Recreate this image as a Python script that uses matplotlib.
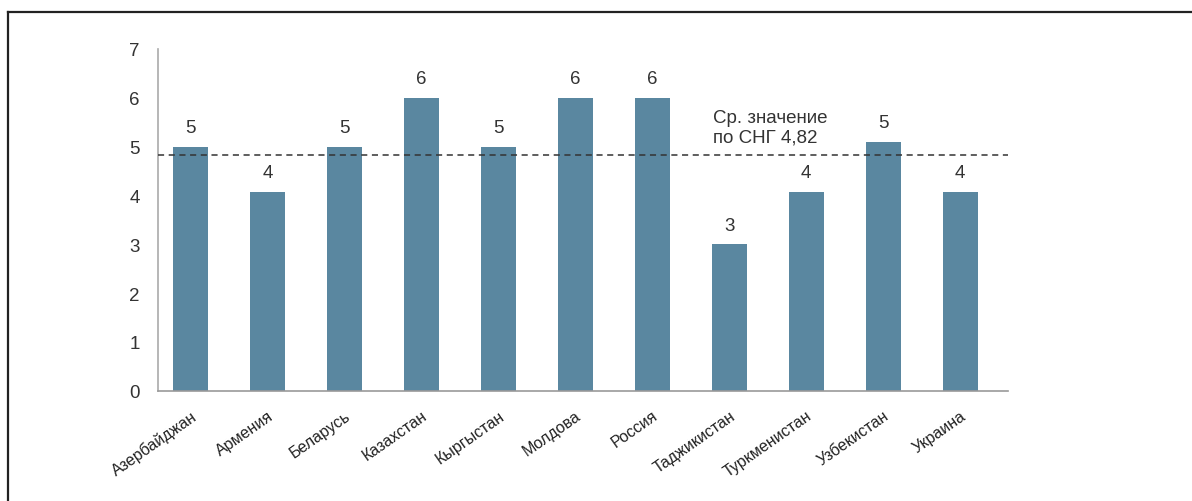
import matplotlib
matplotlib.use("Agg")
import matplotlib.pyplot as plt
from matplotlib.lines import Line2D

countries = ["Азербайджан", "Армения", "Беларусь", "Казахстан", "Кыргыстан",
             "Молдова", "Россия", "Таджикистан", "Туркменистан", "Узбекистан", "Украина"]
values = [5.0, 4.08, 5.0, 6.0, 5.0, 6.0, 6.0, 3.0, 4.07, 5.1, 4.08]
value_labels = ["5", "4", "5", "6", "5", "6", "6", "3", "4", "5", "4"]
average = 4.82
average_text = "Ср. значение\nпо СНГ 4,82"
yticks = [0, 1, 2, 3, 4, 5, 6, 7]

plt.rcParams['font.family'] = ['Liberation Sans', 'DejaVu Sans']

fig = plt.figure(figsize=(11.92, 5.02), dpi=100)
ax = fig.add_axes([158/1192, 1 - 391.7/502, (1008-158)/1192, (391.7-50)/502])

x = list(range(len(countries)))
ax.bar(x, values, width=0.45, color="#5a87a0", zorder=2)
for xi, v, lab in zip(x, values, value_labels):
    ax.text(xi, v + 0.22, lab, ha="center", va="bottom", fontsize=13.5, color="#333333")

ax.axhline(average, color="#333333", linestyle=(0, (4, 3)), linewidth=1.1, zorder=3)
ax.text(6.79, 5.02, average_text, ha="left", va="bottom", fontsize=13.5,
        family=['Liberation Sans Narrow', 'Liberation Sans', 'DejaVu Sans'],
        color="#333333", linespacing=1.2)

ax.set_xlim(-0.42, 10.62)
ax.set_ylim(0, 7)
ax.set_yticks(yticks)
ax.set_yticklabels([str(t) for t in yticks], fontsize=13.5, color="#333333")
ax.set_xticks(x)
ax.set_xticklabels(countries, rotation=35, ha="right", rotation_mode="anchor",
                   fontsize=11.5, color="#222222")
ax.tick_params(axis="both", length=0)
ax.tick_params(axis="y", pad=13)
ax.tick_params(axis="x", pad=12)
for s in ["top", "right"]:
    ax.spines[s].set_visible(False)
ax.spines["left"].set_color("#aaaaaa")
ax.spines["bottom"].set_color("#999999")
ax.spines["left"].set_linewidth(1.2)
ax.spines["bottom"].set_linewidth(1.2)

# outer frame
fig.add_artist(Line2D([8/1192, 1.0], [1 - 12.5/502, 1 - 12.5/502], color="#222222", linewidth=1.6, transform=fig.transFigure))
fig.add_artist(Line2D([8/1192, 8/1192], [0, 1 - 12.5/502], color="#222222", linewidth=1.6, transform=fig.transFigure))

fig.savefig("out.png", dpi=100)
